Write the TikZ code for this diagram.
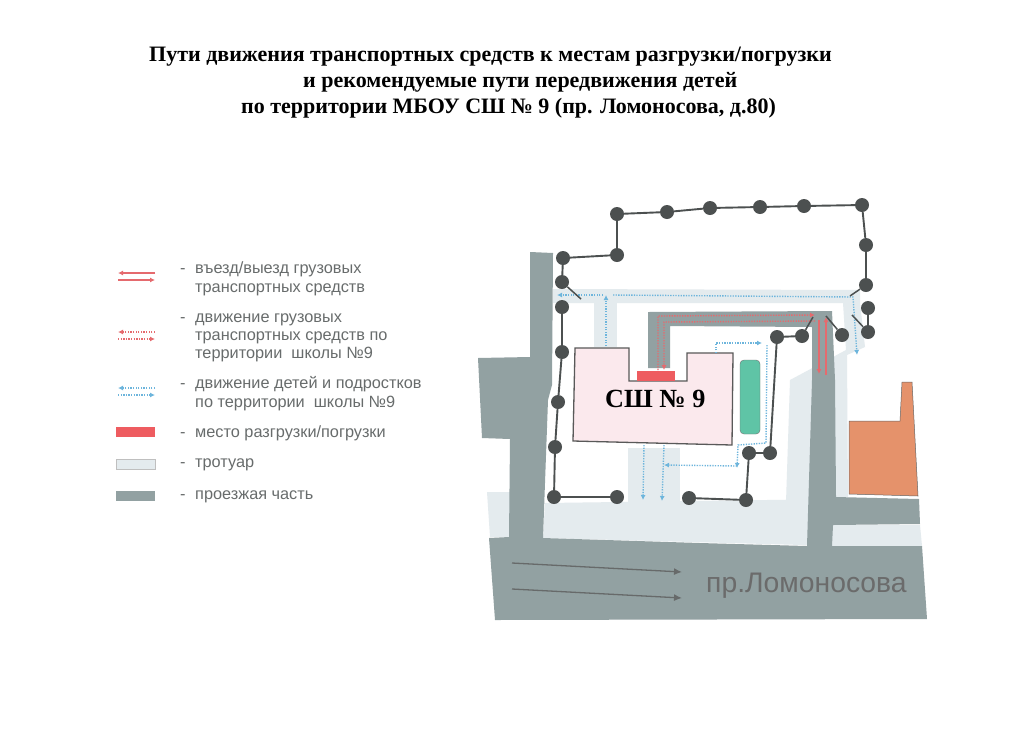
\documentclass[tikz,border=0pt]{standalone}
\usepackage{fontspec}
\setmainfont{Liberation Sans}
\newfontfamily\serifb[BoldFont={Liberation Serif Bold}]{Liberation Serif}
\usetikzlibrary{arrows.meta}
\definecolor{roadc}{HTML}{92A1A2}
\definecolor{walkc}{HTML}{E4EBEE}
\definecolor{fencec}{HTML}{4C5050}
\definecolor{bluec}{HTML}{6DB5DC}
\definecolor{redc}{HTML}{E56A6E}
\definecolor{redbox}{HTML}{EE5C60}
\definecolor{legc}{HTML}{686C6C}
\definecolor{schoolc}{HTML}{FBE9ED}
\definecolor{greenc}{HTML}{5FC4A6}
\definecolor{orangec}{HTML}{E5926B}
\tikzset{
  post/.style={circle,fill=fencec,draw=none,minimum size=14pt,inner sep=0pt},
  fence/.style={draw=fencec,line width=1.9pt},
  road/.style={fill=roadc,draw=none},
  walk/.style={fill=walkc,draw=none},
  kidpath/.style={draw=bluec,line width=1.4pt,dash pattern=on 1.3pt off 1.3pt},
  kidtip/.style={-{Latex[length=5pt,width=5pt]}},
  truckdot/.style={draw=redc,line width=1.4pt,dash pattern=on 1.3pt off 1.3pt},
  trucktip/.style={-{Latex[length=5pt,width=5pt]}},
  truckline/.style={draw=redc,line width=1.6pt,-{Latex[length=5pt,width=5pt]}},
  traffic/.style={draw=fencec!85!white,line width=1.3pt,-{Latex[length=8pt,width=7pt]}},
  legtext/.style={text=legc,font=\fontsize{16.3}{18}\selectfont,anchor=base west,inner sep=0pt},
  titletext/.style={font=\serifb\bfseries\fontsize{22}{24}\selectfont,anchor=base west,inner sep=0pt,text=black},
}
\begin{document}
\begin{tikzpicture}[x=1pt,y=-1pt]
\useasboundingbox (0,0) rectangle (1024,745);
\fill[white] (0,0) rectangle (1024,745);
% title
\node[titletext] (t1) at (149,61) {Пути движения транспортных средств к местам разгрузки/погрузки};
\node[titletext] (t2) at (303,87) {и рекомендуемые пути передвижения детей};
\node[titletext] (t3) at (241,113) {по территории МБОУ СШ № 9 (пр. Ломоносова, д.80)};
% sidewalks
\path[walk] (553,289) -- (860,290) -- (860,303) -- (553,303) -- cycle;
\path[walk] (594,303) -- (617,303) -- (617,347) -- (594,347) -- cycle;
\path[walk] (843,303) -- (860,303) -- (865,347) -- (847,355) -- (848,497) -- (786,502) -- (790,380) -- (846,350) -- cycle;
\path[walk] (545,503) -- (840,499) -- (840,546) -- (543,538) -- cycle;
\path[walk] (628,448) -- (680,448) -- (680,505) -- (628,505) -- cycle;
\path[walk] (487,492) -- (515,492) -- (515,537) -- (490,537) -- cycle;
\path[walk] (830,525) -- (920,525) -- (922,546) -- (830,546) -- cycle;
% roads
\path[road] (648,312) -- (832,311) -- (835,380) -- (836,497) -- (919,499) -- (920,524) -- (833,525) -- (832,546) -- (922,546) -- (927,619) -- (495,620) -- (489,538) -- (509,537) -- (510,439) -- (482,438) -- (478,358) -- (530,357) -- (530,252) -- (553,253) -- (552,385) -- (548,400) -- (543,538) -- (700,543) -- (807,546) -- (812,380) -- (812,327) -- (670,326) -- (670,368) -- (648,368) -- cycle;
% buildings
\path[fill=schoolc,draw=black!65,line width=1.3pt] (575,348) -- (629,348) -- (629,381) -- (687,381) -- (687,353) -- (733,353) -- (732,445) -- (573,441) -- cycle;
\path[fill=redbox] (637,371) rectangle (675,381);
\path[fill=greenc,draw=black!55,line width=0.4pt,rounded corners=4pt] (740,360) rectangle (760,434);
\path[fill=orangec,draw=black!60,line width=0.5pt] (849,421) -- (900,421) -- (902,382) -- (912,382) -- (918,496) -- (849,494) -- cycle;
\node[font=\serifb\bfseries\fontsize{26.2}{30}\selectfont,anchor=base west,inner sep=0pt] (school) at (605,407) {СШ № 9};
% traffic arrows and street name
\coordinate (ta1) at (512,563); \coordinate (tb1) at (682,572);
\coordinate (ta2) at (512,589); \coordinate (tb2) at (682,598);
\draw[traffic] (ta1) -- (tb1);
\draw[traffic] (ta2) -- (tb2);
\node[text=black!58,font=\fontsize{28.3}{30}\selectfont,anchor=base west,inner sep=0pt] (street) at (706,592) {пр.Ломоносова};
% truck routes
\coordinate (r1) at (815,315); \coordinate (r2) at (658,316); \coordinate (r3) at (658,370);
\coordinate (r4) at (664,370); \coordinate (r5) at (664,322); \coordinate (r6) at (815,321);
\draw[truckdot,trucktip] (r3) -- (r2) -- (r1);
\draw[truckdot,trucktip] (r6) -- (r5) -- (r4);
\coordinate (s1) at (819,320); \coordinate (s2) at (819,374);
\coordinate (s3) at (826,375); \coordinate (s4) at (826,317);
\draw[truckline] (s1) -- (s2);
\draw[truckline] (s3) -- (s4);
% children routes
\coordinate (k1) at (603,295); \coordinate (k2) at (557,295);
\coordinate (k3) at (606,346); \coordinate (k4) at (606,295);
\coordinate (k5) at (613,295); \coordinate (k6) at (853,297); \coordinate (k7) at (857,355);
\coordinate (k8) at (716,353); \coordinate (k9) at (716,343); \coordinate (k10) at (762,343);
\coordinate (k11) at (767,345); \coordinate (k12) at (766,443); \coordinate (k13) at (738,445); \coordinate (k14) at (737,468);
\coordinate (k15) at (737,466); \coordinate (k16) at (664,465);
\coordinate (k17) at (644,445); \coordinate (k18) at (643,500);
\coordinate (k19) at (664,445); \coordinate (k20) at (662,501);
\draw[kidpath,kidtip] (k1) -- (k2);
\draw[kidpath,kidtip] (k3) -- (k4);
\draw[kidpath,kidtip] (k5) -- (k6) -- (k7);
\draw[kidpath,kidtip] (k8) -- (k9) -- (k10);
\draw[kidpath,kidtip] (k11) -- (k12) -- (k13) -- (k14);
\draw[kidpath,kidtip] (k15) -- (k16);
\draw[kidpath,kidtip] (k17) -- (k18);
\draw[kidpath,kidtip] (k19) -- (k20);
% fence posts
\foreach \n/\p in {a/{617,214},b/{667,212},c/{710,208},d/{760,207},e/{804,206},f/{862,205},g/{866,245},h/{866,285},i/{868,308},j/{868,332},
  k/{617,255},l/{563,258},m/{562,282},n/{562,307},o/{562,352},p/{558,402},q/{555,447},u/{554,497},v/{617,497},
  w/{689,498},x/{746,500},y/{749,453},z/{770,453},aa/{777,337},ab/{802,336},ac/{842,335}}
  \node[post] (\n) at (\p) {};
\draw[fence] (m) -- (l) -- (k) -- (a) -- (b) -- (c) -- (d) -- (e) -- (f) -- (g) -- (h);
\draw[fence] (i) -- (j);
\draw[fence] (n) -- (o) -- (p) -- (q) -- (u) -- (v);
\draw[fence] (w) -- (x) -- (y) -- (z) -- (aa) -- (ab);
\coordinate (g1) at (581,299); \coordinate (g2) at (813,317); \coordinate (g3) at (826,316);
\coordinate (g4) at (850,296); \coordinate (g5) at (852,315);
\draw[fence,line width=1.5pt] (m) -- (g1);
\draw[fence,line width=1.5pt] (ab) -- (g2);
\draw[fence,line width=1.5pt] (ac) -- (g3);
\draw[fence,line width=1.5pt] (h) -- (g4);
\draw[fence,line width=1.5pt] (j) -- (g5);
% legend symbols
\coordinate (la1) at (155,273); \coordinate (la2) at (118,273); \coordinate (la3) at (118,280); \coordinate (la4) at (155,280);
\draw[truckline,line width=1.3pt] (la1) -- (la2);
\draw[truckline,line width=1.3pt] (la3) -- (la4);
\coordinate (lb1) at (155,332); \coordinate (lb2) at (118,332); \coordinate (lb3) at (118,339); \coordinate (lb4) at (155,339);
\draw[truckdot,trucktip] (lb1) -- (lb2);
\draw[truckdot,trucktip] (lb3) -- (lb4);
\coordinate (lc1) at (155,388); \coordinate (lc2) at (118,388); \coordinate (lc3) at (118,395); \coordinate (lc4) at (155,395);
\draw[kidpath,kidtip] (lc1) -- (lc2);
\draw[kidpath,kidtip] (lc3) -- (lc4);
\path[fill=redbox] (116,427) rectangle (155,437);
\path[fill=walkc,draw=black!25,line width=0.4pt] (116,459) rectangle (155,469);
\path[fill=roadc] (116,491) rectangle (155,501);
% legend text
\node[legtext] (d1) at (180,273) {-};
\node[legtext] (l1) at (195,273) {въезд/выезд грузовых};
\node[legtext] (l2) at (195,292) {транспортных средств};
\node[legtext] (d2) at (180,322) {-};
\node[legtext] (l3) at (195,322) {движение грузовых};
\node[legtext] (l4) at (195,340) {транспортных средств по};
\node[legtext] (l5) at (195,358) {территории\ \ школы №9};
\node[legtext] (d3) at (180,388) {-};
\node[legtext] (l6) at (195,388) {движение детей и подростков};
\node[legtext] (l7) at (195,407) {по территории\ \ школы №9};
\node[legtext] (d4) at (180,437) {-};
\node[legtext] (l8) at (195,437) {место разгрузки/погрузки};
\node[legtext] (d5) at (180,467) {-};
\node[legtext] (l9) at (195,467) {тротуар};
\node[legtext] (d6) at (180,499) {-};
\node[legtext] (l10) at (195,499) {проезжая часть};
\end{tikzpicture}
\end{document}
